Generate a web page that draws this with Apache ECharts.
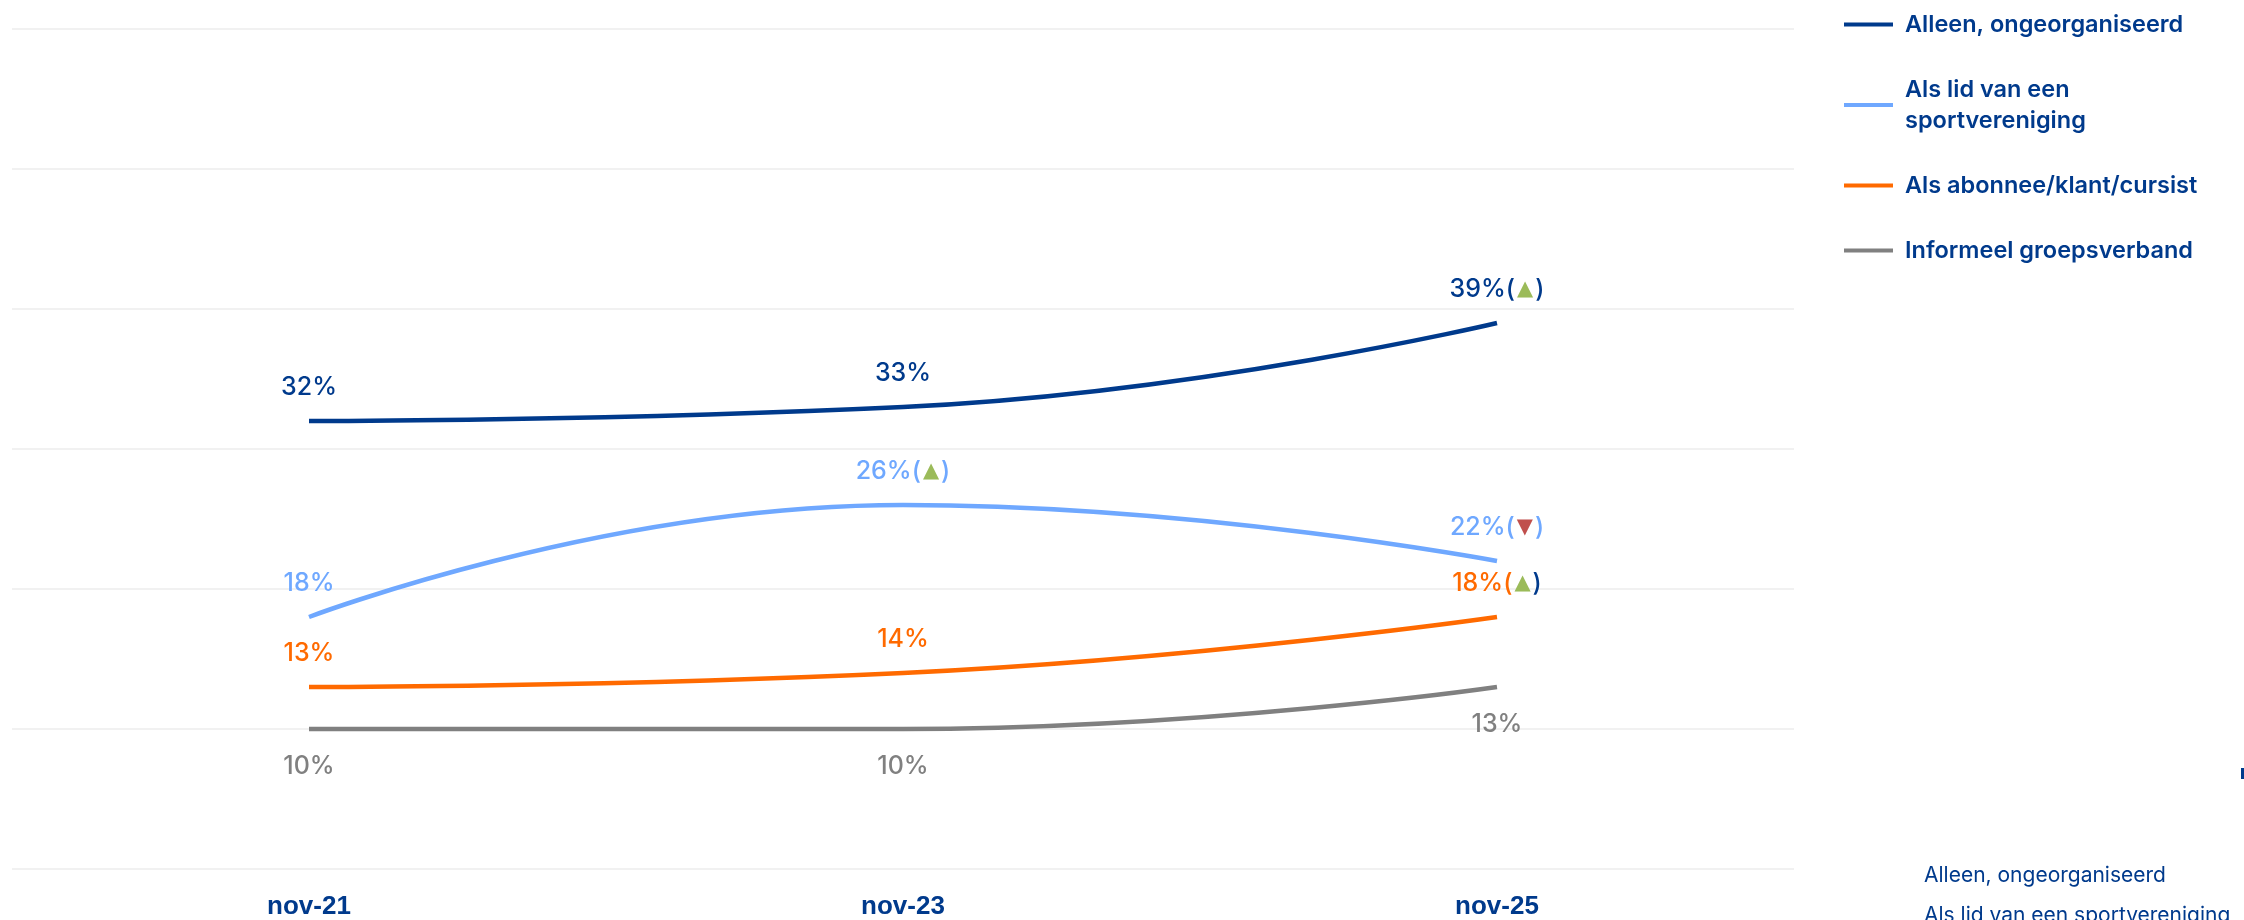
<!DOCTYPE html>
<html>
<head>
<meta charset="utf-8">
<script src="https://cdn.jsdelivr.net/npm/echarts@6/dist/echarts.min.js"></script>
<style>
  html, body { margin: 0; padding: 0; background: #fff; }
  #chart { width: 2244px; height: 920px; }
</style>
</head>
<body>
<div id="chart"></div>
<script>
// data
const categories = ['nov-21', 'nov-23', 'nov-25']
const names = ['Alleen, ongeorganiseerd', 'Als lid van een sportvereniging', 'Als abonnee/klant/cursist', 'Informeel groepsverband']
const alleen = [32, 33, 39]
const lid = [18, 26, 22]
const abonnee = [13, 14, 18]
const informeel = [10, 10, 13]
// significance markers per point ('' = none)
const alleenTrend = ['', '', 'up']
const lidTrend = ['', 'up', 'down']
const abonneeTrend = ['', '', 'up']
const informeelTrend = ['', '', '']
const yTicks = [0, 10, 20, 30, 40, 50, 60]

const navy = '#003a8c'
const colors = [navy, '#6fa8ff', '#ff6a00', '#808080']

function makeSeries (idx, data, trend, pos, closeColor) {
  const c = colors[idx]
  return {
    name: names[idx],
    type: 'line',
    data: data,
    smooth: 0.5,
    symbol: 'circle',
    symbolSize: 0,
    lineStyle: { color: c, width: 4.5 },
    itemStyle: { color: c },
    label: {
      show: true,
      position: pos,
      distance: pos === 'top' ? 21 : 25,
      fontFamily: 'Inter',
      fontSize: 25,
      fontWeight: 500,
      color: c,
      formatter: function (p) {
        const t = trend[p.dataIndex]
        let s = '{v|' + p.value + '%}'
        if (t) s += '{v|(}{' + t + '|' + (t === 'up' ? '▲' : '▼') + '}{c|)}'
        return s
      },
      rich: {
        v: { color: c, fontFamily: 'Inter', fontSize: 25, fontWeight: 500 },
        c: { color: closeColor || c, fontFamily: 'Inter', fontSize: 25, fontWeight: 500 },
        up: { color: '#9bbb59', fontFamily: 'DejaVu Sans', fontSize: 21, padding: [0, 2, 0, 2] },
        down: { color: '#c0504d', fontFamily: 'DejaVu Sans', fontSize: 21, padding: [0, 2, 0, 2] }
      }
    }
  }
}

const chart = echarts.init(document.getElementById('chart'))
chart.setOption({
  backgroundColor: '#fff',
  animation: false,
  grid: { left: 12, right: 450, top: 29, bottom: 51, containLabel: false },
  legend: {
    data: names,
    orient: 'vertical',
    left: 1839,
    top: 4,
    itemGap: 34,
    icon: 'rect',
    itemWidth: 49,
    itemHeight: 4,
    formatter: function (n) {
      return n === names[1] ? 'Als lid van een\nsportvereniging' : n
    },
    textStyle: {
      color: navy,
      fontFamily: 'Inter',
      fontSize: 23.5,
      fontWeight: 600,
      lineHeight: 31,
      padding: [0, 0, 0, 7]
    }
  },
  // overflow of a second, plain legend at the bottom right
  graphic: [
    {
      type: 'text',
      left: 1924,
      top: 865,
      style: { text: names[0], fill: navy, font: '400 21px Inter' }
    },
    {
      type: 'text',
      left: 1924,
      top: 905,
      style: { text: names[1], fill: navy, font: '400 21px Inter' }
    },
    {
      type: 'rect',
      left: 2241,
      top: 768,
      shape: { width: 3, height: 11 },
      style: { fill: navy }
    }
  ],
  xAxis: {
    type: 'category',
    data: categories,
    boundaryGap: true,
    axisLine: { show: false },
    axisTick: { show: false },
    axisLabel: {
      margin: 25,
      color: navy,
      fontFamily: 'Liberation Sans',
      fontSize: 26,
      fontWeight: 700
    }
  },
  yAxis: {
    type: 'value',
    min: yTicks[0],
    max: yTicks[yTicks.length - 1],
    interval: 10,
    axisLabel: { show: false },
    axisLine: { show: false },
    axisTick: { show: false },
    splitLine: { lineStyle: { color: '#ececec', width: 1.5 } }
  },
  series: [
    makeSeries(0, alleen, alleenTrend, 'top'),
    makeSeries(1, lid, lidTrend, 'top'),
    makeSeries(2, abonnee, abonneeTrend, 'top', navy),
    makeSeries(3, informeel, informeelTrend, 'bottom')
  ]
})
</script>
</body>
</html>
